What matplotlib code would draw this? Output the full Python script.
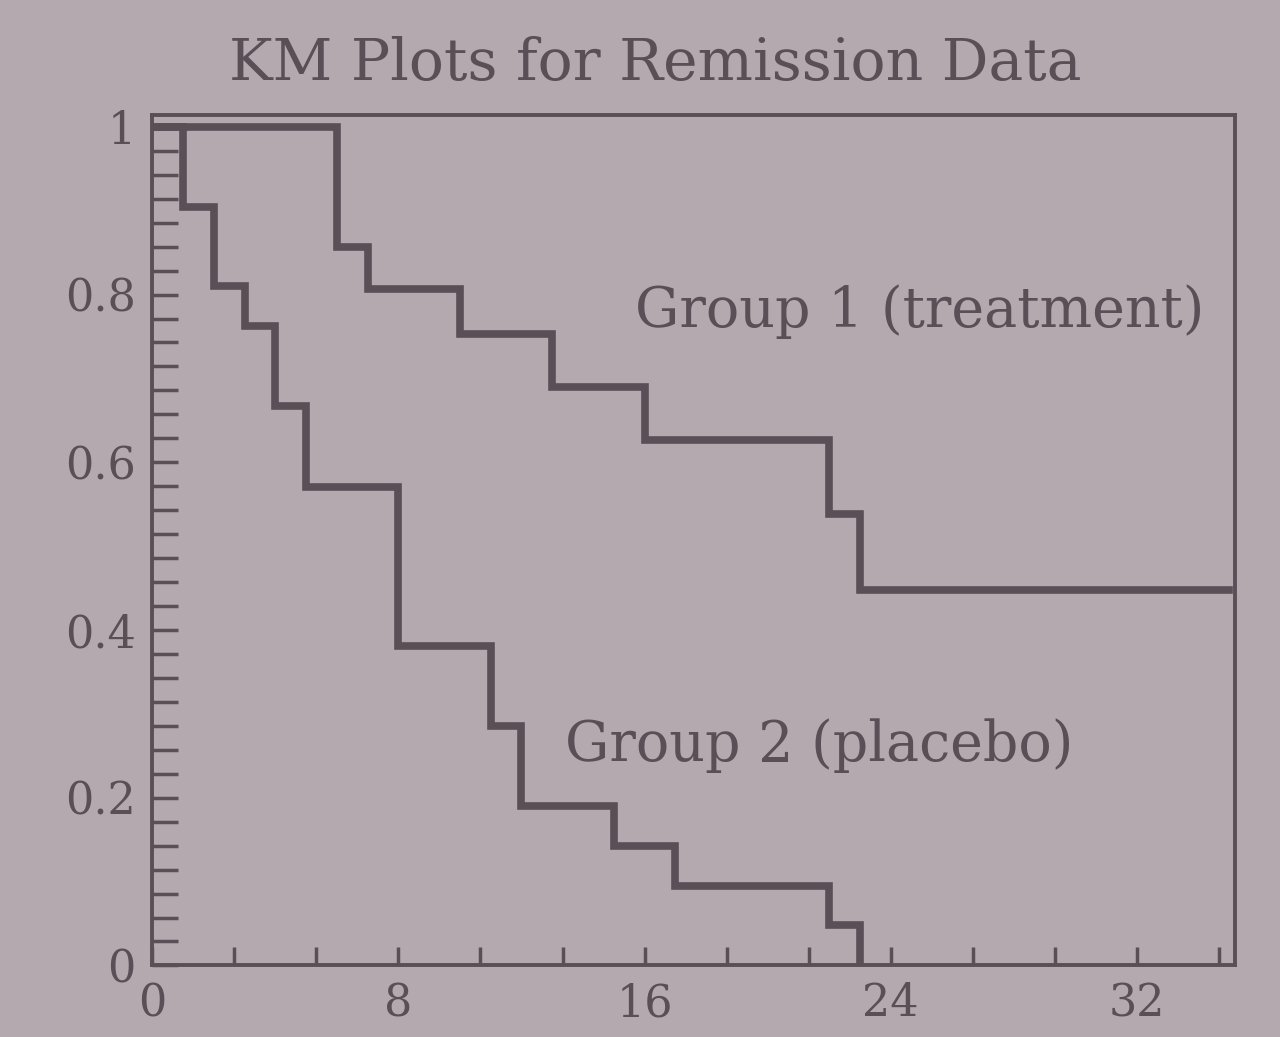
import matplotlib
matplotlib.use("Agg")
import matplotlib.pyplot as plt
from matplotlib.ticker import MultipleLocator, AutoMinorLocator, FuncFormatter

# Kaplan-Meier steps (remission data)
g1_times = [0, 6, 7, 10, 13, 16, 22, 23, 35]
g1_surv = [1.0, 0.857, 0.807, 0.753, 0.690, 0.627, 0.538, 0.448, 0.448]

g2_times = [0, 1, 2, 3, 4, 5, 8, 11, 12, 15, 17, 22, 23]
g2_surv = [1.0, 0.905, 0.810, 0.762, 0.667, 0.571, 0.381, 0.286, 0.190, 0.143, 0.095, 0.048, 0.0]

title = "KM Plots for Remission Data"
label_g1 = "Group 1 (treatment)"
label_g2 = "Group 2 (placebo)"

bg = "#b3a9ae"
ink = "#5a4f57"

plt.rcParams['font.family'] = ['DejaVu Serif', 'Liberation Serif']

fig = plt.figure(figsize=(12.8, 10.37), dpi=100, facecolor=bg)
ax = fig.add_axes([0.119, 0.069, 0.846, 0.820])
ax.set_facecolor(bg)

ax.step(g1_times, g1_surv, where='post', color=ink, lw=5.5, solid_joinstyle='miter')
ax.step(g2_times, g2_surv, where='post', color=ink, lw=5.5, solid_joinstyle='miter')

ax.set_xlim(0, 35.2)
ax.set_ylim(0, 1.014)

ax.xaxis.set_major_locator(MultipleLocator(8))
ax.xaxis.set_minor_locator(AutoMinorLocator(3))
ax.yaxis.set_major_locator(MultipleLocator(0.2))
ax.yaxis.set_minor_locator(AutoMinorLocator(7))
ax.yaxis.set_major_formatter(FuncFormatter(lambda v, p: f"{v:g}"))

ax.tick_params(axis='x', which='both', direction='in', length=13, width=2.5,
               color=ink, labelsize=32, labelcolor=ink, pad=12)
ax.tick_params(axis='y', which='both', direction='in', length=19, width=2.5,
               color=ink, labelsize=32, labelcolor=ink, pad=12)
for s in ax.spines.values():
    s.set_color(ink)
    s.set_linewidth(2.8)

ax.text(0.464, 1.027, title, transform=ax.transAxes, ha='center', va='bottom',
        fontsize=42, color=ink)
ax.text(34.2, 0.78, label_g1, ha='right', va='center', fontsize=40, color=ink)
ax.text(13.4, 0.262, label_g2, ha='left', va='center', fontsize=40, color=ink)

fig.savefig("out.png", dpi=100, facecolor=bg)
